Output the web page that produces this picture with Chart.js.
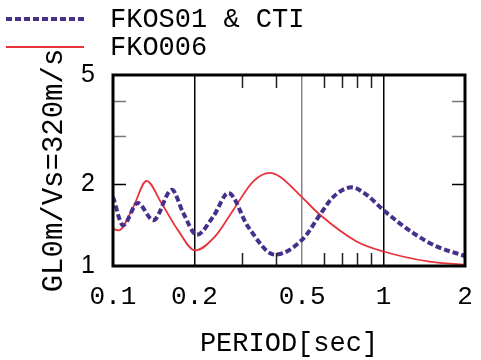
<!DOCTYPE html>
<html>
<head>
<meta charset="utf-8">
<script src="https://cdn.jsdelivr.net/npm/chart.js@4"></script>
<style>
  html, body { margin: 0; padding: 0; background: #fff; }
  #wrap { width: 481px; height: 360px; }
</style>
</head>
<body>
<div id="wrap"><canvas id="chart" width="481" height="360"></canvas></div>
<script>
// Period axis (sec) and amplification values
const ctiPeriods = [0.100, 0.109, 0.1234, 0.141, 0.165, 0.182, 0.204, 0.235, 0.267, 0.316, 0.397, 0.505, 0.582, 0.652, 0.762, 0.866, 1.0, 1.288, 1.57, 2.0];
const ctiValues  = [1.79, 1.41, 1.70, 1.47, 1.90, 1.56, 1.30, 1.52, 1.85, 1.39, 1.10, 1.26, 1.54, 1.79, 1.94, 1.82, 1.60, 1.32, 1.18, 1.088];

const fkoPeriods = [0.100, 0.105, 0.119, 0.133, 0.151, 0.174, 0.201, 0.238, 0.278, 0.330, 0.380, 0.414, 0.498, 0.582, 0.795, 1.0, 1.48, 2.0];
const fkoValues  = [1.37, 1.35, 1.65, 2.05, 1.70, 1.35, 1.14, 1.28, 1.60, 2.04, 2.19, 2.12, 1.79, 1.54, 1.23, 1.13, 1.037, 1.01];

const seriesLabels = ['FKOS01 & CTI', 'FKO006'];
const xTicks = [0.1, 0.2, 0.5, 1, 2];
const xMinorTicks = [0.3, 0.4, 0.6, 0.7, 0.8, 0.9];
const yTicks = [1, 2, 5];
const yMinorTicks = [3, 4];

const PURPLE = '#46308c';
const RED = '#e8333b';
const MONO = '"Liberation Mono", "DejaVu Sans Mono", monospace';

function toPoints(xs, ys) {
    return xs.map((x, i) => ({ x: x, y: ys[i] }));
}

// frame, inner ticks and legend
const decorations = {
    id: 'decorations',
    afterDraw(chart) {
        const c = chart.ctx;
        const a = chart.chartArea;
        const xs = chart.scales.x;
        const ys = chart.scales.y;
        c.save();

        // minor ticks on top and bottom
        c.strokeStyle = '#222';
        c.lineWidth = 1.5;
        xMinorTicks.forEach(v => {
            const px = Math.round(xs.getPixelForValue(v)) + 0.5;
            c.beginPath();
            c.moveTo(px, a.top); c.lineTo(px, a.top + 13);
            c.moveTo(px, a.bottom); c.lineTo(px, a.bottom - 13);
            c.stroke();
        });

        // y ticks left and right
        yTicks.concat(yMinorTicks).forEach(v => {
            if (v === 1 || v === 5) return;
            const py = Math.round(ys.getPixelForValue(v)) + 0.5;
            c.strokeStyle = yMinorTicks.includes(v) ? '#777' : '#000';
            c.beginPath();
            c.moveTo(a.left, py); c.lineTo(a.left + 13, py);
            c.moveTo(a.right, py); c.lineTo(a.right - 13, py);
            c.stroke();
        });

        // frame
        c.strokeStyle = '#000';
        c.lineWidth = 3;
        c.strokeRect(a.left, a.top, a.right - a.left, a.bottom - a.top);

        // legend
        chart.data.datasets.forEach((ds, i) => {
            const y = 19 + i * 28;
            c.strokeStyle = ds.borderColor;
            c.lineWidth = ds.borderWidth;
            c.setLineDash(ds.borderDash || []);
            c.beginPath();
            c.moveTo(6, y); c.lineTo(84, y);
            c.stroke();
            c.setLineDash([]);
            c.fillStyle = '#000';
            c.font = '27px ' + MONO;
            c.textBaseline = 'middle';
            c.textAlign = 'left';
            c.fillText(ds.label, 110, y + 1);
        });
        c.restore();
    }
};

new Chart(document.getElementById('chart'), {
    type: 'line',
    data: {
        datasets: [
            {
                label: seriesLabels[0],
                data: toPoints(ctiPeriods, ctiValues),
                borderColor: PURPLE,
                borderWidth: 4,
                borderDash: [6, 3],
                pointRadius: 0,
                cubicInterpolationMode: 'monotone',
                fill: false
            },
            {
                label: seriesLabels[1],
                data: toPoints(fkoPeriods, fkoValues),
                borderColor: RED,
                borderWidth: 1.8,
                pointRadius: 0,
                cubicInterpolationMode: 'monotone',
                fill: false
            }
        ]
    },
    options: {
        responsive: false,
        animation: false,
        layout: { padding: { top: 75, right: 16, left: 0, bottom: 0 } },
        plugins: {
            legend: { display: false },
            tooltip: { enabled: false }
        },
        scales: {
            x: {
                type: 'logarithmic',
                min: 0.1,
                max: 2,
                afterBuildTicks: s => { s.ticks = xTicks.map(v => ({ value: v })); },
                afterFit: s => { s.height = 94; s.paddingRight = 0; s.paddingLeft = 0; },
                border: { display: false },
                grid: {
                    drawTicks: false,
                    lineWidth: 1.5,
                    color: ctx => {
                        const v = ctx.tick && ctx.tick.value;
                        if (v === 0.2 || v === 1) return '#000';
                        if (v === 0.5) return '#888';
                        return 'rgba(0,0,0,0)';
                    }
                },
                ticks: {
                    color: '#000',
                    padding: 16,
                    maxRotation: 0,
                    autoSkip: false,
                    font: { family: MONO, size: 26 },
                    callback: v => String(v)
                },
                title: {
                    display: true,
                    text: 'PERIOD[sec]',
                    color: '#000',
                    font: { family: MONO, size: 27, lineHeight: 1 },
                    padding: { top: 0, bottom: 3 }
                }
            },
            y: {
                type: 'logarithmic',
                min: 1,
                max: 5,
                afterBuildTicks: s => { s.ticks = yTicks.map(v => ({ value: v })); },
                afterFit: s => { s.width = 113; },
                border: { display: false },
                grid: { display: false },
                ticks: {
                    color: '#000',
                    padding: 10,
                    font: { family: '"Liberation Sans", Arial, sans-serif', size: 25 },
                    callback: v => String(v)
                },
                title: {
                    display: true,
                    text: 'GL0m/Vs=320m/s',
                    color: '#000',
                    font: { family: MONO, size: 29, lineHeight: 1 },
                    padding: { top: 40, bottom: 0 }
                }
            }
        }
    },
    plugins: [decorations]
});
</script>
</body>
</html>
